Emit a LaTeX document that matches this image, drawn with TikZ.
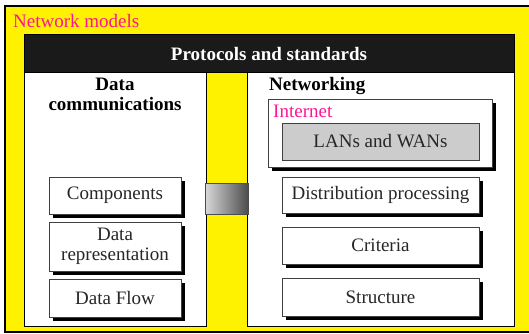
\documentclass[tikz,border=0pt]{standalone}
\usepackage{fontspec}
\setmainfont{Liberation Serif}
\usetikzlibrary{shadows}
\definecolor{pinktxt}{RGB}{255,20,147}
\definecolor{hdr}{RGB}{26,26,26}
\begin{document}
\begin{tikzpicture}[x=1pt,y=-1pt,
  txt/.style={font=\rmfamily\fontsize{19}{20.5}\selectfont},
  panel/.style={draw=black,line width=0.8pt,fill=white,inner sep=0pt,outer sep=0pt},
  itembox/.style={txt,draw=black!75,line width=0.8pt,fill=white,inner sep=0pt,outer sep=0pt,
    align=center,text=black!85,
    drop shadow={shadow xshift=4pt,shadow yshift=-4pt,fill=black,opacity=1}},
]
\useasboundingbox (0,0) rectangle (529,333);
\fill[white] (0,0) rectangle (529,333);
% outer yellow frame
\node[draw=black,line width=1.2pt,fill=yellow,inner sep=0pt,outer sep=0pt,
  minimum width=540pt,minimum height=326pt,anchor=north west] (outer) at (5,6) {};
\node[txt,text=pinktxt,anchor=base west,inner sep=0pt] (title) at (13,27) {Network models};
% header
\node[panel,fill=hdr,minimum width=490pt,minimum height=38pt] (header) at (269,53) {};
\node[txt,font=\rmfamily\fontsize{19}{20.5}\selectfont\bfseries,text=white,anchor=base,inner sep=0pt] (htext) at (269,60.5) {Protocols and standards};
% panels
\node[panel,minimum width=182pt,minimum height=254pt,anchor=north west] (left) at (24,72) {};
\node[panel,minimum width=267pt,minimum height=254pt,anchor=north west] (right) at (247,72) {};
\node[txt,font=\rmfamily\fontsize{19}{20}\selectfont\bfseries,align=center,anchor=base,inner sep=0pt] (dc) at (115,110.5) {Data\\communications};
\node[txt,font=\rmfamily\fontsize{19}{20.5}\selectfont\bfseries,anchor=base west,inner sep=0pt] (nw) at (269,90) {Networking};
% link between panels
\node[draw=black!70,line width=0.8pt,left color=black!15,right color=black!70,inner sep=0pt,outer sep=0pt,
  minimum width=43pt,minimum height=31pt] (link) at (226.5,198.5) {};
% left items
\node[itembox,minimum width=132pt,minimum height=37pt] (comp) at (115,195.5) {Components};
\node[itembox,font=\rmfamily\fontsize{19}{20}\selectfont,minimum width=132pt,minimum height=49pt] (rep) at (115,246.5) {Data\\representation};
\node[itembox,minimum width=132pt,minimum height=38pt] (flow) at (115,298) {Data Flow};
% internet box
\node[itembox,minimum width=224pt,minimum height=68pt] (inet) at (380,133) {};
\node[txt,text=pinktxt,anchor=base west,inner sep=0pt] (inettxt) at (273,117) {Internet};
\node[txt,draw=black!75,line width=0.8pt,fill=black!20,text=black!85,inner sep=0pt,outer sep=0pt,
  minimum width=197pt,minimum height=37pt] (lan) at (380.5,141.5) {LANs and WANs};
% right items
\node[itembox,minimum width=197pt,minimum height=36pt] (dist) at (380.5,195) {Distribution processing};
\node[itembox,minimum width=197pt,minimum height=37pt] (crit) at (380.5,245.5) {Criteria};
\node[itembox,minimum width=197pt,minimum height=38pt] (struct) at (380.5,297) {Structure};
\end{tikzpicture}
\end{document}
